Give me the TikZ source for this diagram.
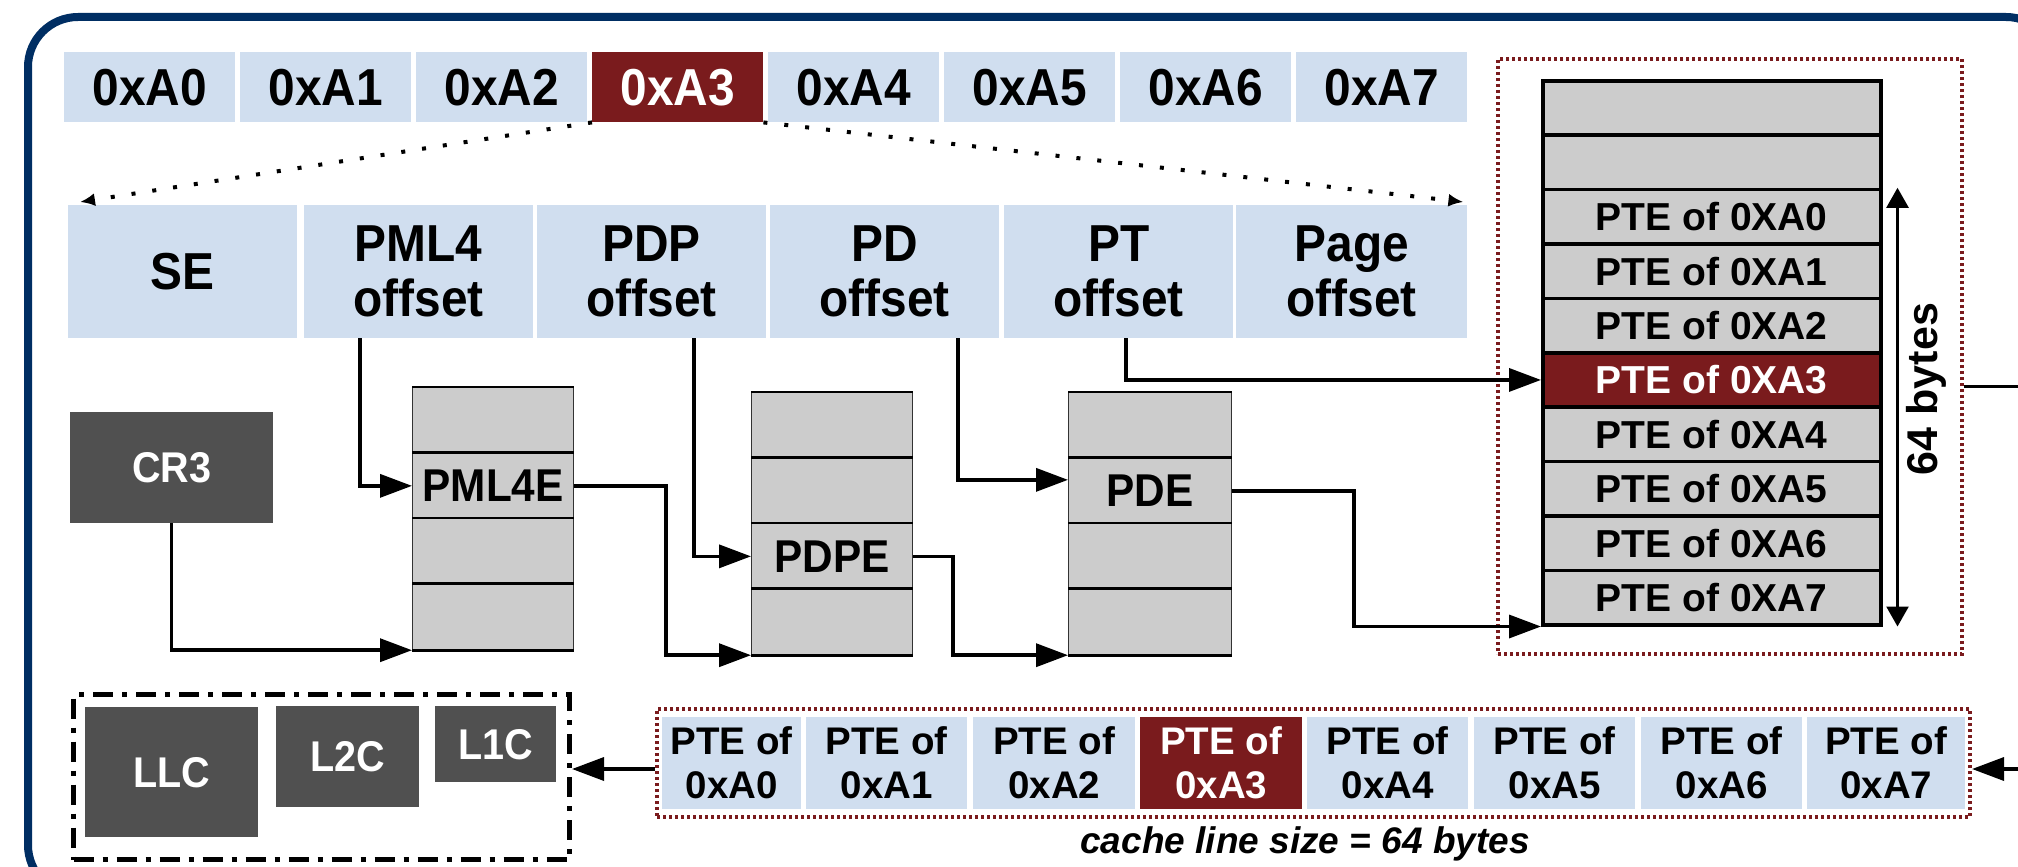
\documentclass[tikz,border=0pt]{standalone}
\usepackage{fontspec}
\setmainfont{Liberation Sans}
\newfontfamily\condf[FakeStretch=0.92]{Liberation Sans}
\usetikzlibrary{arrows.meta}
\definecolor{navyc}{RGB}{0,46,99}
\definecolor{cellb}{RGB}{208,222,239}
\definecolor{redc}{RGB}{122,27,29}
\definecolor{grayc}{RGB}{204,204,204}
\definecolor{dgray}{RGB}{80,80,80}
\tikzset{
 addr/.style={fill=cellb, inner sep=0pt, minimum width=171pt, minimum height=70pt, anchor=north west, font=\condf\fontsize{52}{55}\selectfont\bfseries},
 field/.style={fill=cellb, inner sep=0pt, minimum width=229pt, minimum height=133pt, anchor=north west, align=center, font=\condf\fontsize{52}{55}\selectfont\bfseries},
 hot/.style={fill=redc, text=white},
 trow/.style={fill=grayc, draw=black!80, line width=1.2pt, inner sep=0pt, minimum width=161pt, minimum height=65.5pt, anchor=north west, font=\condf\fontsize{46}{50}\selectfont\bfseries},
 sepline/.style={line width=2.6pt},
 ptrow/.style={fill=grayc, draw=black, line width=3.5pt, inner sep=0pt, minimum width=338pt, minimum height=54.4pt, anchor=north west, font=\fontsize{39}{44}\selectfont\bfseries},
 pcell/.style={fill=cellb, inner sep=0pt, minimum height=92pt, anchor=north west, align=center, font=\fontsize{38.5}{44}\selectfont\bfseries},
 dbox/.style={fill=dgray, text=white, inner sep=0pt, anchor=north west, font=\condf\fontsize{43}{48}\selectfont\bfseries},
 conn/.style={line width=3.5pt, -{Triangle[length=32pt,width=23pt]}},
 dotarrow/.style={line width=4pt, dash pattern=on 4pt off 17pt, -{Latex[length=15pt,width=13pt]}},
 reddot/.style={draw=redc, line width=4pt, dash pattern=on 3pt off 3pt, inner sep=0pt, anchor=north west},
}
\begin{document}
\begin{tikzpicture}[x=1pt,y=-1pt]
\useasboundingbox (0,0) rectangle (2018,867);
\clip (0,0) rectangle (2018,867);
\fill[white] (0,0) rectangle (2018,867);
% outer frame
\draw[navyc, line width=8pt, rounded corners=50pt] (28,17) rectangle (2056,895);

% address row
\node[addr] (a0) at (64,52) {0xA0};
\node[addr] (a1) at (240,52) {0xA1};
\node[addr] (a2) at (416,52) {0xA2};
\node[addr,hot] (a3) at (592,52) {0xA3};
\node[addr] (a4) at (768,52) {0xA4};
\node[addr] (a5) at (944,52) {0xA5};
\node[addr] (a6) at (1120,52) {0xA6};
\node[addr] (a7) at (1296,52) {0xA7};

% field row
\node[field] (f0) at (68,205) {SE};
\node[field] (f1) at (304,205) {PML4\\offset};
\node[field] (f2) at (537,205) {PDP\\offset};
\node[field] (f3) at (770,205) {PD\\offset};
\node[field] (f4) at (1004,205) {PT\\offset};
\node[field, minimum width=231pt] (f5) at (1236,205) {Page\\offset};

\draw[dotarrow] (a3.south west) -- ([xshift=12pt,yshift=3pt]f0.north west);
\draw[dotarrow] (a3.south east) -- ([xshift=-4pt,yshift=3pt]f5.north east);

% CR3
\node[dbox, minimum width=203pt, minimum height=111pt] (cr3) at (70,412) {CR3};

% PML4 table
\node[trow] (m1) at (412,387) {};
\node[trow] (m2) at (412,452.5) {PML4E};
\node[trow] (m3) at (412,518) {};
\node[trow] (m4) at (412,583.5) {};
\foreach \r in {m1,m2,m3,m4} {\draw[sepline] (\r.north west) -- (\r.north east);}
\draw[sepline] (m4.south west) -- (m4.south east);

% PDP table
\node[trow] (p1) at (751,392) {};
\node[trow] (p2) at (751,457.5) {};
\node[trow] (p3) at (751,523) {PDPE};
\node[trow] (p4) at (751,588.5) {};
\foreach \r in {p1,p2,p3,p4} {\draw[sepline] (\r.north west) -- (\r.north east);}
\draw[sepline] (p4.south west) -- (p4.south east);

% PD table
\node[trow, minimum width=163pt] (d1) at (1068,392) {};
\node[trow, minimum width=163pt] (d2) at (1068,457.5) {PDE};
\node[trow, minimum width=163pt] (d3) at (1068,523) {};
\node[trow, minimum width=163pt] (d4) at (1068,588.5) {};
\foreach \r in {d1,d2,d3,d4} {\draw[sepline] (\r.north west) -- (\r.north east);}
\draw[sepline] (d4.south west) -- (d4.south east);

% PT group
\node[reddot, minimum width=464pt, minimum height=595pt] (ptbox) at (1496,57) {};
\node[ptrow] (t1) at (1541,79) {};
\node[ptrow] (t2) at (1541,133.4) {};
\node[ptrow] (t3) at (1541,187.8) {PTE of 0XA0};
\node[ptrow] (t4) at (1541,242.2) {PTE of 0XA1};
\node[ptrow] (t5) at (1541,296.6) {PTE of 0XA2};
\node[ptrow, fill=redc, text=white] (t6) at (1541,351) {PTE of 0XA3};
\node[ptrow] (t7) at (1541,405.4) {PTE of 0XA4};
\node[ptrow] (t8) at (1541,459.8) {PTE of 0XA5};
\node[ptrow] (t9) at (1541,514.2) {PTE of 0XA6};
\node[ptrow] (t10) at (1541,568.6) {PTE of 0XA7};
\draw[line width=2.5pt, {Triangle[length=20pt,width=22pt]}-{Triangle[length=20pt,width=22pt]}]
  ([xshift=15pt]t3.north east) -- ([xshift=15pt]t10.south east);
\node[rotate=90, font=\fontsize{43}{48}\selectfont\bfseries] (sz) at (1926,389) {64 bytes};

% bottom cache line
\node[reddot, minimum width=1313pt, minimum height=108pt] (bot) at (655,707) {};
\node[pcell, minimum width=139pt] (c0) at (662,717) {PTE of\\0xA0};
\node[pcell, minimum width=161pt] (c1) at (806,717) {PTE of\\0xA1};
\node[pcell, minimum width=162pt] (c2) at (973,717) {PTE of\\0xA2};
\node[pcell, minimum width=162pt, hot] (c3) at (1140,717) {PTE of\\0xA3};
\node[pcell, minimum width=161pt] (c4) at (1307,717) {PTE of\\0xA4};
\node[pcell, minimum width=161pt] (c5) at (1474,717) {PTE of\\0xA5};
\node[pcell, minimum width=161pt] (c6) at (1641,717) {PTE of\\0xA6};
\node[pcell, minimum width=158pt] (c7) at (1807,717) {PTE of\\0xA7};
\node[anchor=base, font=\fontsize{37}{42}\selectfont\bfseries\itshape] (cap) at (1305,853) {cache line size = 64 bytes};

% caches
\node[draw=black, line width=5pt, dash pattern=on 20pt off 9pt on 5pt off 9pt, inner sep=0pt, anchor=north west, minimum width=496pt, minimum height=165pt] (cache) at (71,692) {};
\node[dbox, minimum width=173pt, minimum height=130pt] (llc) at (85,707) {LLC};
\node[dbox, minimum width=143pt, minimum height=101pt] (l2c) at (276,706) {L2C};
\node[dbox, minimum width=121pt, minimum height=76pt] (l1c) at (435,706) {L1C};

% connectors
\draw[conn] (cr3.south) |- (m4.south west);
\draw[conn] ([xshift=56pt]f1.south west) |- (m2.west);
\draw[conn] (m2.east) -| ([xshift=-85pt]p4.south west) -- (p4.south west);
\draw[conn] ([xshift=157pt]f2.south west) |- (p3.west);
\draw[conn] (p3.east) -| ([xshift=-115pt]d4.south west) -- (d4.south west);
\draw[conn] ([xshift=188pt]f3.south west) |- ([yshift=11pt]d2.west);
\draw[conn] (d2.east) -| ([xshift=-187pt]t10.south west) -- (t10.south west);
\draw[conn] ([xshift=122pt]f4.south west) |- (t6.west);
\draw[conn] ([yshift=-30pt]ptbox.east) -- ++(80,0) |- ([yshift=-6pt]bot.east);
\draw[conn] ([yshift=-6pt]bot.west) -- ([yshift=-6pt]bot.west -| cache.east);
\end{tikzpicture}
\end{document}
